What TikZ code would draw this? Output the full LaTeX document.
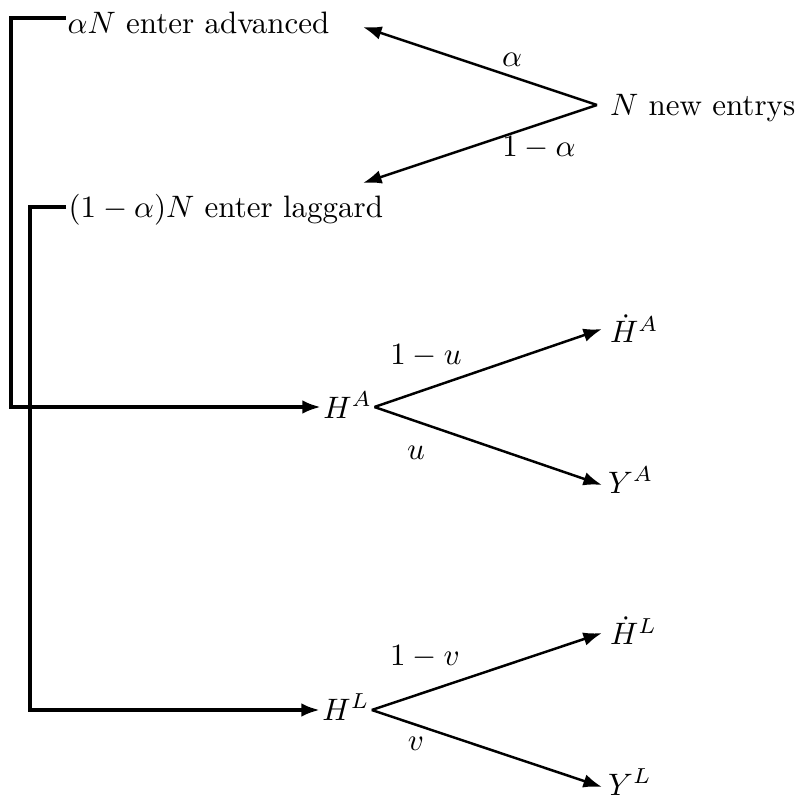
\documentclass[tikz,border=0pt]{standalone}
\usetikzlibrary{arrows.meta}
\begin{document}
\begin{tikzpicture}[x=0.3226pt,y=-0.3226pt,
  tip/.tip={Latex[length=6pt,width=4.4pt]},
  arr/.style={line width=0.8pt,-tip},
  brk/.style={line width=1.3pt,line join=miter},
  txt/.style={anchor=west,inner ysep=0pt,text depth=0pt},
  lbl/.style={inner sep=0pt}]
\useasboundingbox (0,0) rectangle (799,800);
% text nodes
\node[txt,inner xsep=4pt,text height=6.45pt] (new) at (597,105) {$N$ new entrys};
\node[anchor=base west,inner sep=0pt] (adv) at (67,33) {$\alpha N$ enter advanced};
\node[anchor=base west,inner sep=0pt] (lag) at (68,217) {$(1-\alpha)N$ enter laggard};
\node[txt,inner xsep=0.6pt,text height=7.1pt] (hA) at (321,407) {$H^A$};
\node[txt,inner xsep=2.4pt,text height=9pt] (hAd) at (602,329) {$\dot{H}^A$};
\node[txt,inner xsep=1.8pt,text height=5.2pt] (yA) at (602,485) {$Y^A$};
\node[txt,inner xsep=0.6pt,text height=6.45pt] (hL) at (320,710) {$H^L$};
\node[txt,inner xsep=2.4pt,text height=7.7pt] (hLd) at (602,633) {$\dot{H}^L$};
\node[txt,inner xsep=1.8pt,text height=5.2pt] (yL) at (602,787) {$Y^L$};
% coordinates
\coordinate (advT) at (363,27);
\coordinate (lagT) at (363,183);
\coordinate (advB) at (66,18);
\coordinate (c1) at (11,18);
\coordinate (lagB) at (66,207);
\coordinate (c2) at (30,207);
% labels
\node[lbl] (la) at (512,60) {$\alpha$};
\node[lbl] (lb) at (539,148) {$1-\alpha$};
\node[lbl] (lc) at (426,356) {$1-u$};
\node[lbl] (ld) at (416,453) {$u$};
\node[lbl] (le) at (425,657) {$1-v$};
\node[lbl] (lf) at (416,744) {$v$};
% connectors
\draw[arr] (new.west) -- (advT);
\draw[arr] (new.west) -- (lagT);
\draw[brk,-tip] (advB) -- (c1) |- (hA.west);
\draw[brk,-tip] (lagB) -- (c2) |- (hL.west);
\draw[arr] (hA.east) -- (hAd.west);
\draw[arr] (hA.east) -- (yA.west);
\draw[arr] (hL.east) -- (hLd.west);
\draw[arr] (hL.east) -- (yL.west);
\end{tikzpicture}
\end{document}
